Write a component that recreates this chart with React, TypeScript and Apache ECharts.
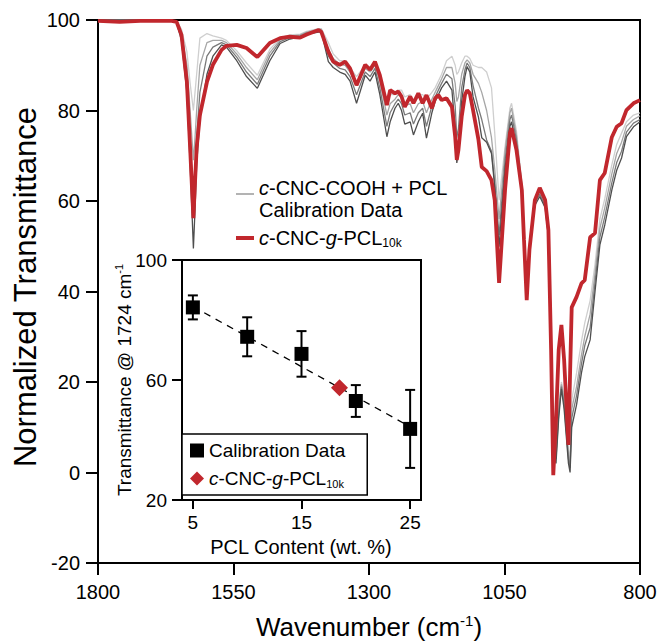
import React, { useEffect, useRef } from 'react';
import * as echarts from 'echarts';

const FONT = '"Liberation Sans", Arial, Helvetica, sans-serif';

// Main spectrum: wavenumber grid (cm^-1)
const wavenumbers = [
  1800, 1760, 1722, 1686, 1664, 1655, 1646, 1636, 1630, 1624,
  1621, 1618, 1612, 1599, 1588, 1572, 1563, 1544, 1526, 1506,
  1483, 1464, 1446, 1427, 1415, 1393, 1388, 1375, 1366, 1354,
  1344, 1335, 1323, 1307, 1298, 1289, 1280, 1267, 1261, 1252,
  1246, 1240, 1234, 1224, 1218, 1209, 1201, 1194, 1184, 1178,
  1172, 1166, 1157, 1147, 1141, 1138, 1135, 1129, 1123, 1119,
  1114, 1108, 1098, 1092, 1083, 1074, 1068, 1060, 1049, 1040,
  1037, 1028, 1018, 1014, 1009, 1004, 994, 985, 975, 969,
  964, 960, 955, 950, 945, 940, 932, 929, 926, 917,
  908, 902, 892, 883, 874, 865, 852, 843, 834, 825,
  812, 800,
];

// c-CNC-g-PCL10k (red)
const graftedT = [
  99.8, 99.6, 99.8, 99.8, 99.8, 99.6, 96.7, 86.3, 71.7, 56.2,
  64.2, 71.7, 79.0, 86.3, 90.1, 93.4, 94.3, 94.5, 93.8, 91.8,
  94.9, 96.0, 96.3, 96.1, 96.8, 97.8, 97.4, 93.0, 90.8, 90.1,
  90.8, 89.3, 85.6, 90.1, 89.0, 90.8, 87.8, 81.2, 84.5, 83.8,
  84.2, 83.1, 80.8, 83.1, 81.6, 83.8, 81.6, 83.4, 80.5, 82.7,
  83.4, 82.3, 82.7, 80.8, 74.2, 69.1, 71.3, 78.6, 83.4, 84.5,
  83.8, 80.1, 73.5, 67.5, 66.6, 64.6, 60.2, 41.9, 62.4, 75.0,
  76.1, 71.3, 62.4, 51.4, 38.1, 49.2, 60.2, 62.9, 60.2, 53.6,
  27.1, -0.6, 11.6, 27.1, 32.6, 24.9, 6.1, 22.0, 36.5, 38.8,
  41.8, 42.5, 52.0, 52.9, 64.6, 66.2, 74.1, 76.4, 77.2, 80.1,
  81.6, 82.3,
];

// c-CNC-COOH + PCL calibration spectra (dark -> light)
const calib1 = [
  100, 100, 100, 100, 99.9, 99.4, 95.5, 84, 68, 49.5,
  58, 68, 78, 88, 92, 94.5, 94, 91, 87.5, 84.9,
  91, 94.8, 95.8, 96.3, 96.9, 97.3, 97.4, 90.8, 89.5, 88.5,
  88, 86.5, 81.6, 87.8, 86.5, 88.5, 83.5, 74.2, 77.5, 80.5,
  81.6, 80, 77, 77.5, 74.6, 77.5, 79.4, 73.9, 79.5, 82,
  83.5, 85, 86.5, 84.5, 76, 68.4, 71, 82, 87.5, 89.7,
  88.5, 83, 78.5, 74, 73, 70.5, 63, 49.9, 67, 76.5,
  77.5, 72, 62.5, 52, 38.5, 49.5, 59, 61, 58.5, 52,
  30, 6, 2, 12, 18.5, 14, 2, 0, 10, 15,
  22, 25.6, 29.3, 40, 50.3, 54.7, 62.4, 66.8, 69.5, 74.2,
  76.4, 77.5,
];
const calib2 = [
  100, 100, 100, 100, 99.9, 99.5, 96.5, 87, 74, 60,
  66, 74, 84, 92, 94, 95, 94.5, 91.8, 88.5, 85.8,
  92, 95.2, 96.1, 96.5, 97.1, 97.6, 97.6, 92, 90.5, 89.3,
  89, 87.5, 83.5, 88.5, 87.5, 89.3, 85, 76.5, 79.5, 81.5,
  82.5, 81.5, 79, 79.5, 77, 79.5, 80.5, 76.5, 81, 83,
  84.5, 86, 88, 87, 81, 74, 76, 85, 89, 90.5,
  89.5, 85.5, 80.5, 78, 73.5, 71, 64, 52.5, 69, 78,
  79, 73.5, 63, 52.5, 39, 50, 59.5, 61.5, 59, 52.5,
  30.5, 7, 3, 13, 19, 15, 3, 1, 12, 17,
  24, 28, 32, 42, 52, 56.5, 64, 68.5, 71, 75.2,
  77.2, 78,
];
const calib3 = [
  100, 100, 100, 100, 99.9, 99.6, 97.2, 90, 80, 69,
  74, 80, 90, 95, 95.5, 95.5, 95, 92.5, 89.5, 86.8,
  92.8, 95.6, 96.4, 96.7, 97.3, 97.9, 97.9, 93.5, 91.5, 90.2,
  90, 88.5, 85.5, 89.3, 88.5, 90, 86.5, 79, 81.5, 82.5,
  83.5, 83, 81, 81.5, 79.5, 81.5, 82, 79.5, 82.5, 84,
  85.5, 87, 89.5, 89.5, 86, 82, 83, 88, 90.5, 91.2,
  90.5, 88, 86, 84, 80, 74, 67, 56, 71, 79.5,
  80.5, 74.5, 63.5, 53, 40, 50.5, 60, 62, 59.5, 53,
  31, 8, 4, 14, 19.5, 16, 4, 2, 14, 19,
  26, 30, 35, 44, 54, 58.5, 66, 70.5, 73, 76.5,
  78, 78.8,
];
const calib4 = [
  100, 100, 100, 100, 99.9, 99.7, 98, 93, 86, 80,
  84, 88, 96, 97, 96.5, 96, 95.5, 93.2, 90.5, 87.8,
  93.5, 96, 96.7, 96.9, 97.5, 98.1, 98.1, 95, 92.5, 91,
  91, 89.5, 87.5, 90, 89.5, 90.8, 88, 81.5, 83.5, 83.5,
  84.5, 84.5, 83, 83.5, 82, 83.5, 83.5, 82.5, 84, 85,
  86.5, 88, 91, 92, 90, 88, 88.5, 90.5, 92, 92,
  91.5, 90, 89.5, 89.5, 88.5, 85, 75, 60.2, 72, 80.5,
  81.6, 75.5, 64, 53.5, 41, 51, 60.5, 62.5, 60, 53.5,
  31.5, 9, 5, 15, 20, 17, 5, 3, 16, 22,
  29, 33, 38, 46, 56, 60.5, 68, 72.5, 75, 77.5,
  79, 79.5,
];

// Inset: calibration at 1724 cm^-1
const calibX = [5, 10, 15, 20, 25];
const calibY = [84.2, 74.4, 68.7, 53.0, 43.7];
const calibErr = [4.0, 6.5, 7.6, 5.3, 13.0];
const sampleX = [18.5];
const sampleY = [57.4];
const fitX = [5, 25];
const fitY = [84.5, 44.4];

const mainXTicks = [800, 1050, 1300, 1550, 1800];
const insetXTicks = [5, 15, 25];

const RED = '#c1272d';
const GRAYS = ['#4e4e4e', '#7a7a7a', '#a6a6a6', '#cfcfcf'];

export default function App() {
  const ref = useRef<HTMLDivElement>(null);

  useEffect(() => {
    if (!ref.current) return;
    const chart = echarts.init(ref.current, null, { renderer: 'svg' });

    const pair = (ys: number[]) => wavenumbers.map((w, i) => [w, ys[i]]);
    const grayData = [calib4, calib3, calib2, calib1];
    const grayColors = [GRAYS[3], GRAYS[2], GRAYS[1], GRAYS[0]];

    const axisLine = { show: true, onZero: false, lineStyle: { color: '#000', width: 2 } };
    const labelStyle = { color: '#000', fontSize: 20, fontFamily: FONT, formatter: (v: number) => String(v) };

    const option: any = {
      animation: false,
      backgroundColor: '#fff',
      grid: [
        {
          left: 98, top: 20, width: 542, height: 543,
          show: true, borderColor: '#000', borderWidth: 2, backgroundColor: 'transparent',
          containLabel: false, outerBoundsMode: 'none',
        },
        {
          left: 182, top: 260, width: 239, height: 240,
          show: true, borderColor: '#000', borderWidth: 2, backgroundColor: '#fff',
          containLabel: false, outerBoundsMode: 'none', z: 3,
        },
      ],
      xAxis: [
        {
          type: 'value', gridIndex: 0, min: 800, max: 1800, inverse: true,
          axisLine, splitLine: { show: false },
          axisTick: { show: true, inside: false, length: 12, lineStyle: { color: '#000', width: 2 }, customValues: mainXTicks },
          axisLabel: { ...labelStyle, margin: 19, customValues: mainXTicks, hideOverlap: false },
        },
        {
          type: 'value', gridIndex: 1, min: 4, max: 26,
          axisLine, splitLine: { show: false },
          axisTick: { show: true, inside: false, length: 9, lineStyle: { color: '#000', width: 2 }, customValues: insetXTicks },
          axisLabel: { ...labelStyle, fontSize: 19, margin: 13, customValues: insetXTicks },
        },
      ],
      yAxis: [
        {
          type: 'value', gridIndex: 0, min: -20, max: 100, interval: 20,
          axisLine, splitLine: { show: false },
          axisTick: { show: true, inside: false, length: 12, lineStyle: { color: '#000', width: 2 } },
          axisLabel: { ...labelStyle, margin: 18 },
        },
        {
          type: 'value', gridIndex: 1, min: 20, max: 100, interval: 40,
          axisLine, splitLine: { show: false },
          axisTick: { show: true, inside: false, length: 10, lineStyle: { color: '#000', width: 2 } },
          axisLabel: { ...labelStyle, fontSize: 19, margin: 15 },
        },
      ],
      legend: [
        {
          data: ['Calibration Data', 'c-CNC-g-PCL10k'],
          orient: 'vertical', left: 182, top: 434,
          backgroundColor: '#fff', borderColor: '#000', borderWidth: 1.5, borderRadius: 0,
          padding: [7, 22, 6, 8], itemWidth: 14, itemHeight: 14, itemGap: 9,
          selectedMode: false, z: 10,
          formatter: (name: string) =>
            name === 'Calibration Data' ? '{n|Calibration Data}' : '{i|c}{n|-CNC-}{i|g}{n|-PCL}{s|10k}',
          textStyle: {
            color: '#000', fontFamily: FONT, fontSize: 19, padding: [0, 0, 0, 0],
            rich: {
              n: { fontSize: 19, fontFamily: FONT, color: '#000', lineHeight: 21, verticalAlign: 'middle' },
              i: { fontSize: 19, fontFamily: FONT, color: '#000', fontStyle: 'italic', lineHeight: 21, verticalAlign: 'middle' },
              s: { fontSize: 11, fontFamily: FONT, color: '#000', verticalAlign: 'bottom', lineHeight: 21 },
            },
          },
        },
      ],
      series: [
        ...grayData.map((ys, k) => ({
          type: 'line', name: 'calib' + k, xAxisIndex: 0, yAxisIndex: 0,
          data: pair(ys), showSymbol: false, symbol: 'none', silent: true,
          lineStyle: { color: grayColors[k], width: 1.3 }, z: 2 + k * 0.1,
        })),
        {
          type: 'line', name: 'grafted', xAxisIndex: 0, yAxisIndex: 0,
          data: pair(graftedT), showSymbol: false, symbol: 'none', silent: true,
          lineStyle: { color: RED, width: 3.8 }, z: 3,
        },
        {
          type: 'line', name: 'fit', xAxisIndex: 1, yAxisIndex: 1,
          data: fitX.map((x, i) => [x, fitY[i]]), showSymbol: false, symbol: 'none', silent: true,
          lineStyle: { color: '#000', width: 1.3, type: [7, 6] }, z: 4,
        },
        {
          type: 'custom', name: 'err', xAxisIndex: 1, yAxisIndex: 1, silent: true, z: 5,
          data: calibX.map((x, i) => [x, calibY[i] - calibErr[i], calibY[i] + calibErr[i]]),
          renderItem: (params: any, api: any) => {
            const lo = api.coord([api.value(0), api.value(1)]);
            const hi = api.coord([api.value(0), api.value(2)]);
            const hw = 5;
            const style = { stroke: '#000', lineWidth: 2, fill: 'none' };
            return {
              type: 'group',
              children: [
                { type: 'line', shape: { x1: lo[0], y1: lo[1], x2: hi[0], y2: hi[1] }, style },
                { type: 'line', shape: { x1: lo[0] - hw, y1: lo[1], x2: lo[0] + hw, y2: lo[1] }, style },
                { type: 'line', shape: { x1: hi[0] - hw, y1: hi[1], x2: hi[0] + hw, y2: hi[1] }, style },
              ],
            };
          },
        },
        {
          type: 'scatter', name: 'Calibration Data', xAxisIndex: 1, yAxisIndex: 1,
          data: calibX.map((x, i) => [x, calibY[i]]), symbol: 'rect', symbolSize: 14,
          itemStyle: { color: '#000', opacity: 1 }, z: 6, silent: true,
        },
        {
          type: 'scatter', name: 'c-CNC-g-PCL10k', xAxisIndex: 1, yAxisIndex: 1,
          data: sampleX.map((x, i) => [x, sampleY[i]]), symbol: 'diamond', symbolSize: 17,
          itemStyle: { color: RED, opacity: 1 }, z: 6, silent: true,
        },
      ],
      graphic: [
        {
          type: 'text', x: 25, y: 287, rotation: Math.PI / 2, z: 20,
          style: { text: 'Normalized Transmittance', fontSize: 31, fontFamily: FONT, fill: '#000', align: 'center', verticalAlign: 'middle' },
        },
        {
          type: 'text', x: 369, y: 627, z: 20,
          style: {
            text: '{n|Wavenumber (cm}{s|-1}{n|)}', align: 'center', verticalAlign: 'middle', fill: '#000',
            rich: {
              n: { fontSize: 26, fontFamily: FONT, fill: '#000', lineHeight: 29, verticalAlign: 'middle' },
              s: { fontSize: 15, fontFamily: FONT, fill: '#000', verticalAlign: 'top', lineHeight: 29 },
            },
          },
        },
        {
          type: 'text', x: 124, y: 380, rotation: Math.PI / 2, z: 20,
          style: {
            text: '{n|Transmittance @ 1724 cm}{s|-1}', align: 'center', verticalAlign: 'middle', fill: '#000',
            rich: {
              n: { fontSize: 19, fontFamily: FONT, fill: '#000', lineHeight: 22, verticalAlign: 'middle' },
              s: { fontSize: 11, fontFamily: FONT, fill: '#000', verticalAlign: 'top', lineHeight: 22 },
            },
          },
        },
        {
          type: 'text', x: 301, y: 547, z: 20,
          style: { text: 'PCL Content (wt. %)', fontSize: 20, fontFamily: FONT, fill: '#000', align: 'center', verticalAlign: 'middle' },
        },
        {
          type: 'line', z: 20, shape: { x1: 236, y1: 194, x2: 254, y2: 194 },
          style: { stroke: '#9a9a9a', lineWidth: 1.5 },
        },
        {
          type: 'text', x: 259, y: 188, z: 20,
          style: {
            text: '{i|c}{n|-CNC-COOH + PCL}', align: 'left', verticalAlign: 'middle', fill: '#000',
            rich: {
              n: { fontSize: 20, fontFamily: FONT, fill: '#000' },
              i: { fontSize: 20, fontFamily: FONT, fill: '#000', fontStyle: 'italic' },
            },
          },
        },
        {
          type: 'text', x: 259, y: 210, z: 20,
          style: { text: 'Calibration Data', fontSize: 20, fontFamily: FONT, fill: '#000', align: 'left', verticalAlign: 'middle' },
        },
        {
          type: 'line', z: 20, shape: { x1: 236, y1: 238, x2: 254, y2: 238 },
          style: { stroke: RED, lineWidth: 4 },
        },
        {
          type: 'text', x: 259, y: 238, z: 20,
          style: {
            text: '{i|c}{n|-CNC-}{i|g}{n|-PCL}{s|10k}', align: 'left', verticalAlign: 'middle', fill: '#000',
            rich: {
              n: { fontSize: 20, fontFamily: FONT, fill: '#000', lineHeight: 22, verticalAlign: 'middle' },
              i: { fontSize: 20, fontFamily: FONT, fill: '#000', fontStyle: 'italic', lineHeight: 22, verticalAlign: 'middle' },
              s: { fontSize: 12, fontFamily: FONT, fill: '#000', verticalAlign: 'bottom', lineHeight: 22 },
            },
          },
        },
      ],
    };

    chart.setOption(option);
    return () => chart.dispose();
  }, []);

  return (
    <div
      ref={ref}
      style={{ position: 'fixed', left: 0, top: 0, width: 659, height: 641, background: '#fff' }}
    />
  );
}
